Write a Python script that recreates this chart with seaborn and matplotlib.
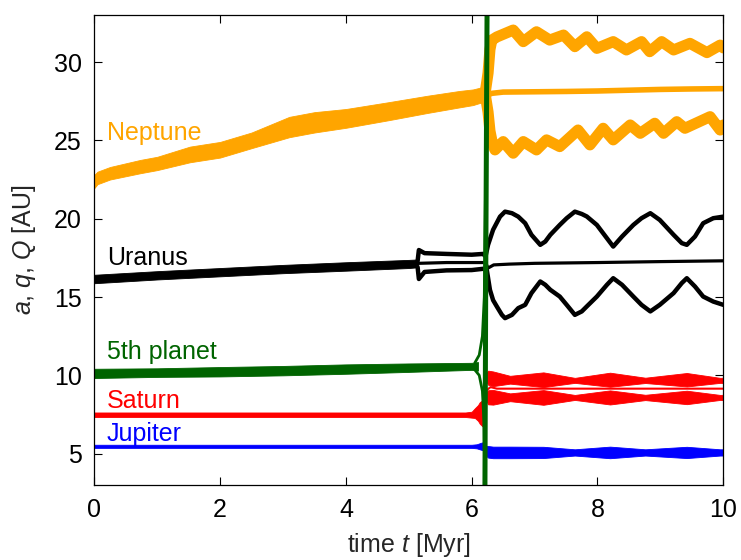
import numpy as np
import matplotlib
matplotlib.use("Agg")
import matplotlib.pyplot as plt
import seaborn as sns

# ---- data (time in Myr, distances in AU) ----
# Neptune before the instability (single band)
nep_pre_t = [0, 0.05, 0.25, 0.73, 1.0, 1.52, 2.0, 2.5, 3.1, 3.5, 4.0, 4.7, 5.3, 5.8, 6.02, 6.22]
nep_pre_lo = [21.95, 22.2, 22.5, 22.9, 23.1, 23.6, 23.9, 24.5, 25.2, 25.5, 25.8, 26.3, 26.75, 27.1, 27.25, 27.5]
nep_pre_hi = [22.8, 23.0, 23.3, 23.75, 23.95, 24.6, 24.9, 25.5, 26.5, 26.8, 27.0, 27.45, 27.85, 28.15, 28.25, 28.45]
# Neptune after: aphelion Q, semi-major axis a, perihelion q
nep_Q_t = [6.22, 6.26, 6.29, 6.32, 6.40, 6.66, 6.82, 7.03, 7.24, 7.46, 7.64, 7.83, 7.99,
           8.25, 8.46, 8.70, 8.83, 9.02, 9.21, 9.47, 9.74, 9.95, 10.0]
nep_Q = [28.2, 29.3, 30.8, 31.4, 31.6, 32.04, 31.3, 31.93, 31.4, 31.72, 30.98, 31.61, 30.87,
         31.3, 30.77, 31.3, 30.66, 31.3, 30.77, 31.19, 30.6, 31.08, 30.9]
nep_a_t = [6.22, 6.26, 6.32, 6.5, 7.0, 7.5, 8.0, 8.5, 9.0, 9.5, 10.0]
nep_a = [28.05, 27.9, 28.0, 28.08, 28.1, 28.12, 28.15, 28.2, 28.25, 28.28, 28.3]
nep_q_t = [6.22, 6.26, 6.29, 6.33, 6.37, 6.50, 6.66, 6.82, 7.03, 7.19, 7.40, 7.69, 7.88,
           8.09, 8.25, 8.52, 8.68, 8.91, 9.05, 9.26, 9.39, 9.79, 9.95, 10.0]
nep_q = [27.8, 26.8, 25.6, 24.8, 24.39, 24.92, 24.18, 24.92, 24.39, 25.03, 24.6, 25.66, 24.71,
         25.77, 25.03, 25.98, 25.45, 26.09, 25.45, 26.19, 25.77, 26.51, 25.66, 25.98]

# Uranus
ura_pre_t = [0, 1, 2, 3, 4, 5, 5.15]
ura_pre_lo = [15.88, 16.12, 16.32, 16.52, 16.68, 16.85, 16.9]
ura_pre_hi = [16.42, 16.65, 16.85, 17.05, 17.22, 17.37, 17.4]
ura_Q_t = [5.14, 5.16, 5.25, 5.6, 6.0, 6.18, 6.22, 6.26, 6.34, 6.45, 6.53, 6.64, 6.74, 6.85,
           6.95, 7.09, 7.17, 7.25, 7.40, 7.51, 7.64, 7.75, 7.83, 7.99, 8.15, 8.25, 8.39, 8.57,
           8.70, 8.84, 8.99, 9.21, 9.34, 9.42, 9.55, 9.68, 9.84, 10.0]
ura_Q = [17.3, 18.0, 17.8, 17.75, 17.7, 17.75, 17.6, 18.33, 19.29, 20.13, 20.45, 20.35, 20.13, 19.71,
         18.97, 18.33, 18.54, 18.97, 19.60, 20.03, 20.45, 20.3, 20.14, 19.60, 18.75, 18.22, 18.86, 19.60,
         20.03, 20.35, 19.92, 18.97, 18.44, 18.33, 18.86, 19.71, 20.03, 20.13]
ura_a_t = [5.15, 5.6, 6.1, 6.22, 6.26, 6.35, 6.6, 7.0, 8.0, 9.0, 10.0]
ura_a = [17.15, 17.2, 17.2, 17.2, 16.85, 17.05, 17.1, 17.15, 17.2, 17.26, 17.31]
ura_q_t = [5.14, 5.16, 5.25, 5.6, 6.0, 6.18, 6.24, 6.29, 6.34, 6.40, 6.48, 6.53, 6.64, 6.74,
           6.85, 6.95, 7.09, 7.17, 7.25, 7.40, 7.51, 7.64, 7.75, 7.83, 7.99, 8.15, 8.25, 8.39,
           8.57, 8.70, 8.84, 8.99, 9.21, 9.34, 9.42, 9.55, 9.68, 9.84, 10.0]
ura_q = [16.9, 16.15, 16.6, 16.7, 16.72, 16.8, 16.73, 15.46, 14.8, 14.39, 13.86, 13.65, 13.86, 14.29,
         14.50, 15.25, 15.99, 15.78, 15.46, 15.03, 14.50, 13.86, 14.08, 14.40, 15.03, 15.78, 16.20, 15.78,
         15.03, 14.50, 14.08, 14.50, 15.25, 15.89, 16.20, 15.67, 15.03, 14.71, 14.50]

# 5th planet (ejected)
fifth_t = [0, 1, 2, 3, 4, 5, 6, 6.1]
fifth_lo = [9.83, 9.9, 9.93, 10.0, 10.1, 10.22, 10.35, 10.3]
fifth_hi = [10.42, 10.45, 10.53, 10.6, 10.7, 10.76, 10.8, 10.85]
fifth_Q_t = [6.05, 6.12, 6.17, 6.20, 6.215, 6.245]
fifth_Q = [10.8, 11.3, 12.5, 15.0, 20.0, 34.0]
fifth_q_t = [6.05, 6.12, 6.17, 6.195, 6.21]
fifth_q = [10.35, 10.0, 9.0, 7.0, 2.5]
fifth_ej_t = [6.21, 6.225, 6.245]
fifth_ej = [2.5, 18.0, 34.0]

# Saturn
sat_pre_t = [0, 5.9, 6.0, 6.05, 6.1, 6.13, 6.17, 6.2]
sat_pre_lo = [7.34, 7.34, 7.3, 7.28, 7.1, 6.9, 6.75, 6.9]
sat_pre_hi = [7.63, 7.63, 7.68, 7.9, 8.1, 8.3, 8.4, 8.2]
sat_post_t = [6.22, 6.26, 6.34, 6.61, 7.14, 7.64, 8.20, 8.76, 9.42, 9.95, 10.0]
sat_Q_mid = [9.9, 9.85, 9.78, 9.72, 9.72, 9.68, 9.72, 9.68, 9.72, 9.68, 9.68]
sat_q_mid = [8.7, 8.6, 8.6, 8.6, 8.59, 8.59, 8.59, 8.59, 8.59, 8.59, 8.59]
sat_half = [0.2, 0.45, 0.47, 0.25, 0.47, 0.16, 0.45, 0.17, 0.43, 0.16, 0.17]
sat_a_t = [6.22, 6.3, 6.4, 10.0]
sat_a = [9.0, 9.25, 9.15, 9.15]

# Jupiter
jup_pre_t = [0, 6.0, 6.08, 6.15, 6.2]
jup_pre_lo = [5.37, 5.37, 5.34, 5.25, 5.2]
jup_pre_hi = [5.57, 5.57, 5.6, 5.7, 5.75]
jup_post_t = [6.22, 6.26, 6.34, 6.61, 7.14, 7.64, 8.20, 8.76, 9.42, 9.95, 10.0]
jup_mid = [5.2, 5.12, 5.08, 5.08, 5.08, 5.08, 5.08, 5.08, 5.08, 5.08, 5.08]
jup_half = [0.3, 0.37, 0.37, 0.37, 0.36, 0.2, 0.37, 0.2, 0.36, 0.2, 0.2]

labels = ["Neptune", "Uranus", "5th planet", "Saturn", "Jupiter"]
label_y = [25.0, 17.05, 11.04, 7.91, 5.78]
colors = ["#FFA500", "#000000", "#006400", "#FF0000", "#0000FF"]

# ---- plotting ----
sns.set_style("ticks")
plt.rcParams["font.family"] = ["Liberation Sans", "DejaVu Sans"]
plt.rcParams["mathtext.fontset"] = "custom"
plt.rcParams["mathtext.rm"] = "Liberation Sans"
plt.rcParams["mathtext.it"] = "Liberation Sans:italic"

fig = plt.figure(figsize=(7.41, 5.6), dpi=100)
ax = fig.add_axes([0.1273, 0.1339, 0.8488, 0.8393])
orange, black, green, red, blue = colors


def line(t, v, color, lw):
    sns.lineplot(x=t, y=v, ax=ax, color=color, linewidth=lw, sort=False,
                 estimator=None, legend=False, solid_joinstyle="round")


def band(t, lo, hi, color):
    ax.fill_between(t, lo, hi, color=color, linewidth=0.6)


# Neptune
band(nep_pre_t, nep_pre_lo, nep_pre_hi, orange)
line(nep_Q_t, nep_Q, orange, 8.0)
line(nep_a_t, nep_a, orange, 4.0)
line(nep_q_t, nep_q, orange, 8.0)

# Uranus
band(ura_pre_t, ura_pre_lo, ura_pre_hi, black)
line(ura_Q_t, ura_Q, black, 3.2)
line(ura_a_t, ura_a, black, 2.3)
line(ura_q_t, ura_q, black, 3.2)

# Saturn
band(sat_pre_t, sat_pre_lo, sat_pre_hi, red)
sq = np.array(sat_Q_mid)
sl = np.array(sat_q_mid)
sh = np.array(sat_half)
band(sat_post_t, sq - sh, sq + sh, red)
band(sat_post_t, sl - sh, sl + sh, red)
line(sat_a_t, sat_a, red, 1.5)

# Jupiter
band(jup_pre_t, jup_pre_lo, jup_pre_hi, blue)
jm = np.array(jup_mid)
jh = np.array(jup_half)
band(jup_post_t, jm - jh, jm + jh, blue)

# 5th planet (on top)
band(fifth_t, fifth_lo, fifth_hi, green)
line(fifth_Q_t, fifth_Q, green, 2.0)
line(fifth_q_t, fifth_q, green, 2.0)
line(fifth_ej_t, fifth_ej, green, 3.6)

for name, y, c in zip(labels, label_y, colors):
    ax.text(0.2, y, name, color=c, fontsize=18, va="baseline", ha="left")

ax.set_xlim(0, 10)
ax.set_ylim(3, 33)
ax.set_xticks([0, 2, 4, 6, 8, 10])
ax.set_yticks([5, 10, 15, 20, 25, 30])
ax.tick_params(direction="in", length=5.5, width=0.8, top=True, right=True,
               labelsize=18, pad=9, colors="black")
for s in ax.spines.values():
    s.set_color("black")
    s.set_linewidth(0.9)

ax.set_xlabel(r"time $t$ [Myr]", fontsize=18)
ax.set_ylabel(r"$a$, $q$, $Q$ [AU]", fontsize=18)
ax.xaxis.set_label_coords(0.5, -0.097)
ax.yaxis.set_label_coords(-0.089, 0.5)

fig.savefig("out.png", dpi=100)
